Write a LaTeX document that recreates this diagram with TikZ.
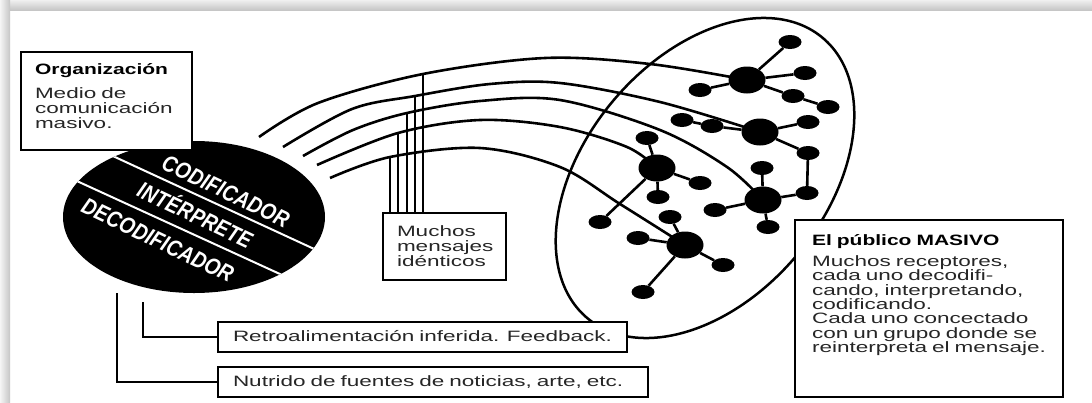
\documentclass[tikz,border=0pt]{standalone}
\usepackage{fontspec}
\setmainfont{Liberation Sans}
\newfontfamily\bodyfont[FakeStretch=1.5]{Liberation Sans}
\newfontfamily\headfont[FakeStretch=1.4]{Liberation Sans}
\newfontfamily\encfont[FakeStretch=0.85]{Liberation Sans}
\usetikzlibrary{shapes.geometric}
\tikzset{
  box/.style={draw=black, line width=2.6pt, fill=white, rectangle, anchor=north west,
    outer sep=0pt, inner ysep=0pt, align=left, text=black!85},
  encoder/.style={ellipse, fill=black, minimum width=262pt, minimum height=152pt, inner sep=0pt},
  divider/.style={draw=white, line width=2pt},
  enclabel/.style={text=white, font=\encfont\bfseries\itshape\fontsize{23}{23}\selectfont,
    inner sep=0pt, text height=16.5pt, text depth=0pt, rotate=-25.5},
  bigdot/.style={ellipse, fill=black, minimum width=37pt, minimum height=27pt, inner sep=0pt},
  smalldot/.style={ellipse, fill=black, minimum width=23pt, minimum height=14pt, inner sep=0pt},
  msg/.style={line width=2.6pt},
  vline/.style={line width=2pt},
  link/.style={line width=2.6pt},
  feed/.style={line width=2.6pt},
  aud/.style={line width=2.5pt},
}
\begin{document}
\begin{tikzpicture}[x=1pt,y=-1pt]
\useasboundingbox (0,0) rectangle (1092,402);
\fill[white] (0,0) rectangle (1092,402);
\shade[top color=gray!12, bottom color=gray!45] (0,0) rectangle (1092,10);
\shade[left color=gray!8, right color=gray!45] (0,0) rectangle (10,402);

% encoder
\node[encoder] (enc) at (194,217) {};
\begin{scope}
  \clip (194,217) ellipse [x radius=131, y radius=76];
  \draw[divider] (100,150.1) -- (330,256.3);
  \draw[divider] (60,173.3) -- (300,283.2);
\end{scope}
\node[enclabel] (cod) at (226,191) {CODIFICADOR};
\node[enclabel] (int) at (195,215) {INTÉRPRETE};
\node[enclabel] (dec) at (158,240) {DECODIFICADOR};

% audience
\draw[aud, rotate around={50:(705,178)}] (705,178) ellipse [x radius=183, y radius=120];

\node[bigdot] (A) at (747,80) {};
\node[smalldot] (a1) at (790,42) {};
\node[smalldot] (a2) at (805,73) {};
\node[smalldot] (a3) at (793,96) {};
\node[smalldot] (a4) at (828,107) {};
\node[smalldot] (a5) at (700,90) {};
\node[bigdot] (B) at (760,132) {};
\node[smalldot] (b1) at (682,120) {};
\node[smalldot] (b2) at (712,126) {};
\node[smalldot] (b3) at (808,122) {};
\node[smalldot] (b4) at (808,153) {};
\node[bigdot] (C) at (657,168) {};
\node[smalldot] (c1) at (647,138) {};
\node[smalldot] (c2) at (700,183) {};
\node[smalldot] (c3) at (658,197) {};
\node[smalldot] (c4) at (600,222) {};
\node[bigdot] (D) at (763,200) {};
\node[smalldot] (d1) at (762,168) {};
\node[smalldot] (d2) at (807,193) {};
\node[smalldot] (d3) at (715,210) {};
\node[smalldot] (d4) at (768,227) {};
\node[bigdot] (E) at (685,245) {};
\node[smalldot] (e1) at (670,217) {};
\node[smalldot] (e2) at (638,238) {};
\node[smalldot] (e3) at (723,265) {};
\node[smalldot] (e4) at (643,292) {};

\draw[link] (A) -- (a1);
\draw[link] (A) -- (a2);
\draw[link] (A) -- (a3);
\draw[link] (a3) -- (a4);
\draw[link] (A) -- (a5);
\draw[link] (b1) -- (b2);
\draw[link] (b2) -- (B);
\draw[link] (B) -- (b3);
\draw[link] (B) -- (b4);
\draw[link] (b4) -- (d2);
\draw[link] (C) -- (c1);
\draw[link] (C) -- (c2);
\draw[link] (C) -- (c3);
\draw[link] (C) -- (c4);
\draw[link] (D) -- (d1);
\draw[link] (D) -- (d2);
\draw[link] (D) -- (d3);
\draw[link] (D) -- (d4);
\draw[link] (E) -- (e1);
\draw[link] (E) -- (e2);
\draw[link] (E) -- (e3);
\draw[link] (E) -- (e4);

% messages
\coordinate (s1) at (259,137);
\coordinate (s2) at (283,147);
\coordinate (s3) at (303,156);
\coordinate (s4) at (317,165);
\coordinate (s5) at (330,178);
\coordinate (v1) at (423,74);
\coordinate (v2) at (415,96);
\coordinate (v3) at (407,113);
\coordinate (v4) at (398,133);
\coordinate (v5) at (390,157);
\draw[msg] plot[smooth, tension=0.55] coordinates {(s1) (318,103) (v1) (545,58) (650,64) (A.center)};
\draw[msg] plot[smooth, tension=0.55] coordinates {(s2) (352,109) (v2) (490,84) (560,83) (660,102) (B.center)};
\draw[msg] plot[smooth, tension=0.55] coordinates {(s3) (353,130) (v3) (480,101) (560,100) (660,130) (727,167) (D.center)};
\draw[msg] plot[smooth, tension=0.55] coordinates {(s4) (v4) (480,120) (560,127) (627,147) (C.center)};
\draw[msg] plot[smooth, tension=0.55] coordinates {(s5) (v5) (480,148) (560,167) (620,204) (E.center)};

% boxes
\node[box, font=\bodyfont\fontsize{15}{15.3}\selectfont, text width=143pt, inner xsep=14pt,
  text height=22pt, text depth=76pt] (org) at (21,52)
  {{\headfont\bfseries\color{black}Organización}\\[8.7pt]Medio de\\\mbox{comunicación}\\masivo.};
\node[box, font=\bodyfont\fontsize{15}{15.4}\selectfont, text width=95pt, inner xsep=14pt,
  text height=23pt, text depth=44pt] (much) at (383,213)
  {Muchos\\\mbox{mensajes}\\\mbox{idénticos}};
\node[box, font=\bodyfont\fontsize{15}{15}\selectfont, text width=379pt, inner xsep=15pt,
  text height=19.5pt, text depth=10.5pt] (retro) at (218,322)
  {\mbox{Retroalimentación inferida. Feedback.}};
\node[box, font=\bodyfont\fontsize{15}{15}\selectfont, text width=400pt, inner xsep=15pt,
  text height=19pt, text depth=11pt] (nutr) at (218,367)
  {\mbox{Nutrido de fuentes de noticias, arte, etc.}};
\node[box, font=\bodyfont\fontsize{15}{14.3}\selectfont, text width=234pt, inner xsep=17pt,
  text height=25pt, text depth=152pt] (pub) at (795,220)
  {{\headfont\bfseries\color{black}El público MASIVO}\\[7.2pt]\mbox{Muchos receptores,}\\\mbox{cada uno decodifi-}\\\mbox{cando, interpretando,}\\\mbox{codificando.}\\\mbox{Cada uno concectado}\\\mbox{con un grupo donde se}\\\mbox{reinterpreta el mensaje.}};

% identical messages
\draw[vline] (v1) -- (v1 |- much.north);
\draw[vline] (v2) -- (v2 |- much.north);
\draw[vline] (v3) -- (v3 |- much.north);
\draw[vline] (v4) -- (v4 |- much.north);
\draw[vline] (v5) -- (v5 |- much.north);

% feedback connectors
\coordinate (f1) at (117,293);
\coordinate (f2) at (143,302);
\draw[feed] (f1) |- (nutr.west);
\draw[feed] (f2) |- (retro.west);
\end{tikzpicture}
\end{document}
